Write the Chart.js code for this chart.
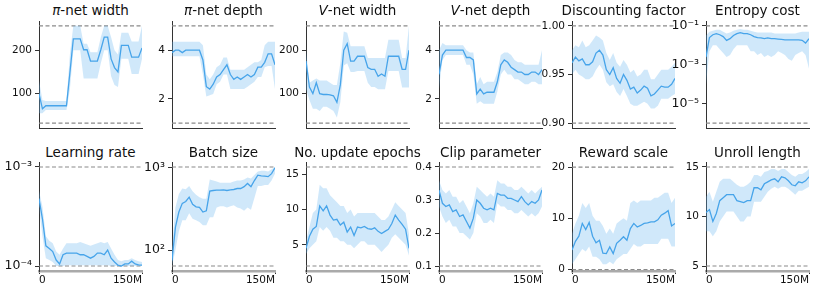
<!DOCTYPE html>
<html>
<head>
<meta charset="utf-8">
<script src="https://cdn.jsdelivr.net/npm/chart.js@4.4.1/dist/chart.umd.min.js"></script>
<style>
  body { margin: 0; width: 830px; height: 293px; position: relative; overflow: hidden; background: #fff; font-family: "DejaVu Sans", sans-serif; }
  .ttl { position: absolute; width: 160px; text-align: center; font-size: 13.5px; line-height: 1; color: #111; white-space: nowrap; }
  canvas { position: absolute; }
</style>
</head>
<body>
<script>
// training steps (millions), shared by every panel
const stepsM = [0,5,10,15,20,25,30,35,40,45,50,55,60,65,70,75,80,85,90,95,100,105,110,115,120,125,130,135,140,145,150];
const xTickValues = [0, 150];
const xTickLabels = ['0', '150M'];

const panelTitles = ['<i>π</i>-net width', '<i>π</i>-net depth', '<i>V</i>-net width', '<i>V</i>-net depth',
  'Discounting factor', 'Entropy cost', 'Learning rate', 'Batch size', 'No. update epochs',
  'Clip parameter', 'Reward scale', 'Unroll length'];

// pi-net width
const piWidthMean = [100,65,72,72,72,72,72,72,72,148,226,226,226,201,201,175,175,175,201,230,230,180,160,150,211,211,211,184,184,184,205];
const piWidthLo   = [55,55,62,62,62,62,62,62,62,110,200,200,200,135,135,135,135,135,170,200,200,140,120,115,180,180,180,145,145,145,180];
const piWidthHi   = [130,85,83,83,83,83,83,83,83,190,256,256,256,215,215,195,195,195,230,256,256,230,200,190,240,240,240,220,220,220,256];
const piWidthBounds = [32, 256];
const piWidthTicks = [100, 200];
const piWidthTickLabels = ['100', '200'];

// pi-net depth
const piDepthMean = [3.9,4.0,4.0,3.9,4.0,4.0,4.0,4.0,4.0,3.6,2.5,2.4,2.6,2.9,3.0,3.2,3.4,3.0,2.8,2.9,2.8,2.9,3.0,2.9,3.0,3.3,3.3,3.5,3.85,3.85,3.4];
const piDepthLo   = [3.75,3.75,3.75,3.75,3.75,3.75,3.75,3.75,3.75,3.0,2.1,2.15,2.2,2.6,2.7,3.0,3.0,2.4,2.4,2.4,2.4,2.4,2.5,2.6,2.7,2.9,2.9,3.3,3.35,3.35,2.4];
const piDepthHi   = [4.35,4.35,4.35,4.35,4.35,4.35,4.35,4.35,4.35,4.2,3.0,2.8,3.0,3.3,3.4,3.7,3.7,3.2,3.2,3.2,3.2,3.2,3.3,3.4,3.5,3.5,3.6,4.2,4.35,4.35,4.35];
const piDepthBounds = [1, 5];
const piDepthTicks = [2, 4];
const piDepthTickLabels = ['2', '4'];

// V-net width
const vWidthMean = [175,115,100,125,100,98,98,97,95,80,120,200,215,175,175,186,186,186,160,156,156,140,145,140,186,186,186,186,156,156,200];
const vWidthLo   = [110,85,65,65,60,70,70,65,60,45,80,165,170,150,150,152,152,152,125,115,115,110,110,110,152,152,152,152,114,114,114];
const vWidthHi   = [200,125,130,135,130,130,130,125,120,120,170,243,240,209,209,209,209,209,182,182,182,182,182,182,224,224,224,224,182,182,256];
const vWidthBounds = [32, 256];
const vWidthTicks = [100, 200];
const vWidthTickLabels = ['100', '200'];

// V-net depth
const vDepthMean = [3.0,3.8,4.0,4.0,4.0,4.0,4.0,4.0,3.7,3.7,3.6,2.2,2.4,2.2,2.27,2.27,2.27,2.7,3.4,3.6,3.5,3.3,3.2,3.1,3.1,3.0,3.0,3.1,3.1,3.0,3.2];
const vDepthLo   = [2.4,3.6,3.8,3.8,3.8,3.8,3.8,3.8,3.4,3.4,3.0,1.8,1.9,1.8,1.8,1.8,1.8,2.3,3.0,3.2,3.0,3.0,2.8,2.8,2.7,2.6,2.6,2.7,2.7,2.6,2.6];
const vDepthHi   = [4.0,4.3,4.2,4.2,4.2,4.2,4.2,4.2,4.0,3.9,3.9,2.6,2.9,2.6,2.7,2.7,2.7,3.1,3.8,3.9,3.9,3.8,3.6,3.5,3.5,3.4,3.4,3.4,3.4,3.4,4.0];
const vDepthBounds = [1, 5];
const vDepthTicks = [2, 4];
const vDepthTickLabels = ['2', '4'];

// discounting factor
const discountMean = [0.962,0.968,0.964,0.966,0.960,0.960,0.963,0.972,0.975,0.970,0.955,0.950,0.957,0.946,0.941,0.950,0.944,0.935,0.937,0.931,0.934,0.938,0.936,0.928,0.930,0.934,0.938,0.937,0.937,0.940,0.946];
const discountLo   = [0.950,0.955,0.950,0.948,0.945,0.945,0.948,0.955,0.960,0.955,0.942,0.938,0.940,0.932,0.928,0.935,0.928,0.920,0.918,0.918,0.920,0.922,0.920,0.915,0.915,0.918,0.925,0.925,0.925,0.928,0.930];
const discountHi   = [0.975,0.980,0.978,0.985,0.978,0.980,0.985,0.990,0.988,0.985,0.972,0.965,0.972,0.962,0.958,0.965,0.960,0.952,0.955,0.948,0.950,0.955,0.955,0.945,0.945,0.950,0.955,0.955,0.955,0.958,0.962];
const discountBounds = [0.9, 1.0];
const discountTicks = [0.9, 0.95, 1.0];
const discountTickLabels = ['0.90', '0.95', '1.00'];

// entropy cost (log)
const entropyMean = [2.5e-3,2.5e-2,3.5e-2,4.0e-2,3.5e-2,2.8e-2,1.8e-2,2.2e-2,3.2e-2,4.0e-2,4.5e-2,4.0e-2,4.0e-2,3.5e-2,2.8e-2,2.5e-2,2.4e-2,2.2e-2,2.4e-2,2.2e-2,2.2e-2,2.1e-2,2.0e-2,1.9e-2,1.9e-2,1.9e-2,1.9e-2,1.9e-2,1.8e-2,1.3e-2,2.2e-2];
const entropyLo   = [1e-4,5e-3,1e-2,1e-2,6.3e-3,4e-3,2.5e-3,3.2e-3,6.3e-3,1e-2,1e-2,1e-2,1e-2,5e-3,5e-3,3.2e-3,4e-3,2.5e-3,3.2e-3,2.5e-3,3.2e-3,5e-3,4e-3,3.2e-3,2e-3,1.6e-3,3.2e-3,4e-3,5e-3,3.2e-3,6.3e-4];
const entropyHi   = [3.2e-2,5e-2,5.6e-2,6.3e-2,6.3e-2,5e-2,4e-2,4.5e-2,5.6e-2,6.3e-2,7e-2,6.3e-2,6.3e-2,5.6e-2,5e-2,4.5e-2,4.5e-2,4.5e-2,4.5e-2,4.5e-2,4e-2,4e-2,4e-2,4e-2,4e-2,4e-2,4e-2,4.5e-2,5e-2,5e-2,5e-2];
const entropyBounds = [1e-6, 1e-1];
const entropyTicks = [1e-5, 1e-3, 1e-1];
const entropyTickLabels = ['10⁻⁵', '10⁻³', '10⁻¹'];

// learning rate (log)
const lrMean = [4.8e-4,3.0e-4,1.6e-4,1.5e-4,1.4e-4,1.15e-4,1.05e-4,1.3e-4,1.35e-4,1.35e-4,1.35e-4,1.35e-4,1.3e-4,1.3e-4,1.25e-4,1.2e-4,1.25e-4,1.35e-4,1.35e-4,1.3e-4,1.45e-4,1.2e-4,1.1e-4,1.02e-4,1.0e-4,1.05e-4,1.05e-4,1.12e-4,1.05e-4,1.03e-4,1.02e-4];
const lrLo   = [4.0e-4,2.0e-4,1.2e-4,1.15e-4,1.1e-4,1.0e-4,1.0e-4,1.0e-4,1.02e-4,1.02e-4,1.02e-4,1.02e-4,1.02e-4,1.02e-4,1.02e-4,1.02e-4,1.02e-4,1.02e-4,1.02e-4,1.02e-4,1.02e-4,1.0e-4,1.0e-4,1.0e-4,1.0e-4,1.0e-4,1.0e-4,1.0e-4,1.0e-4,1.0e-4,1.0e-4];
const lrHi   = [5.8e-4,4.0e-4,2.0e-4,1.8e-4,1.7e-4,1.4e-4,1.3e-4,1.5e-4,1.7e-4,1.7e-4,1.7e-4,1.7e-4,1.75e-4,1.7e-4,1.65e-4,1.6e-4,1.65e-4,1.7e-4,1.75e-4,1.7e-4,1.75e-4,1.5e-4,1.3e-4,1.15e-4,1.12e-4,1.15e-4,1.15e-4,1.2e-4,1.15e-4,1.12e-4,1.1e-4];
const lrBounds = [1e-4, 1e-3];
const lrTicks = [1e-4, 1e-3];
const lrTickLabels = ['10⁻⁴', '10⁻³'];

// batch size (log)
const batchMean = [75,190,290,370,390,440,360,335,330,290,300,520,530,535,535,540,530,540,545,560,560,590,645,590,700,815,800,790,780,850,1000];
const batchLo   = [64,100,170,230,230,280,240,230,220,200,200,250,250,330,340,340,330,340,350,330,320,300,330,310,430,600,600,620,620,700,850];
const batchHi   = [110,330,480,560,550,600,520,470,440,420,420,720,700,680,660,660,660,660,680,700,700,720,760,740,820,900,920,920,900,960,1024];
const batchBounds = [64, 1024];
const batchTicks = [100, 1000];
const batchTickLabels = ['10²', '10³'];

// number of update epochs
const epochsMean = [4.5,6.2,7.2,7.6,10.5,9.8,10.5,9.2,8.5,8.6,7.8,8.2,6.8,7.5,6.3,7.5,7.4,7.6,7.3,7.2,7.4,6.9,6.6,6.9,7.2,8.0,9.2,8.5,7.9,7.2,4.5];
const epochsLo   = [3.7,4.5,5.0,5.5,7.5,7.0,7.5,7.0,6.0,6.0,5.5,5.5,5.0,5.0,4.5,5.0,5.5,5.5,5.0,5.0,5.0,4.5,4.0,4.5,5.0,6.0,6.5,6.0,5.5,5.0,3.5];
const epochsHi   = [5.5,7.5,9.5,10.0,13.5,13.0,13.0,12.0,11.5,11.0,10.5,10.5,9.5,10.0,9.0,9.5,9.5,9.5,9.5,9.5,9.5,9.0,8.5,8.5,9.0,10.0,11.0,10.5,10.0,9.5,6.5];
const epochsBounds = [2, 16];
const epochsTicks = [5, 10, 15];
const epochsTickLabels = ['5', '10', '15'];

// clip parameter
const clipMean = [0.33,0.29,0.28,0.285,0.265,0.27,0.25,0.255,0.235,0.215,0.245,0.30,0.29,0.275,0.27,0.275,0.27,0.32,0.315,0.315,0.305,0.305,0.30,0.295,0.31,0.295,0.285,0.295,0.29,0.30,0.33];
const clipLo   = [0.28,0.25,0.23,0.24,0.22,0.22,0.20,0.20,0.19,0.18,0.20,0.26,0.25,0.23,0.23,0.24,0.23,0.29,0.28,0.28,0.27,0.27,0.26,0.26,0.27,0.26,0.25,0.26,0.25,0.26,0.28];
const clipHi   = [0.36,0.33,0.32,0.33,0.31,0.31,0.29,0.30,0.28,0.26,0.29,0.34,0.33,0.32,0.31,0.32,0.31,0.36,0.35,0.35,0.34,0.34,0.33,0.33,0.34,0.33,0.32,0.33,0.32,0.33,0.34];
const clipBounds = [0.1, 0.4];
const clipTicks = [0.1, 0.2, 0.3, 0.4];
const clipTickLabels = ['0.1', '0.2', '0.3', '0.4'];

// reward scale
const rewardMean = [3.8,5.5,6.5,9.0,7.8,9.2,6.5,5.2,5.7,3.2,3.1,4.4,3.1,5.1,5.7,6.4,5.7,8.0,9.0,8.3,8.6,9.0,9.1,9.3,9.3,9.7,10.6,11.0,11.5,8.5,9.0];
const rewardLo   = [1.0,2.0,3.0,4.0,3.5,4.5,2.5,2.5,2.0,1.0,1.0,1.5,1.0,2.0,2.5,3.0,3.0,4.0,5.0,4.5,4.5,5.0,5.0,5.0,5.0,5.0,6.0,6.0,6.0,4.5,4.5];
const rewardHi   = [7.0,9.0,10.5,13.0,12.0,13.0,10.5,9.5,9.5,8.5,7.0,8.0,7.0,9.0,9.5,10.0,9.5,13.0,13.5,13.0,13.5,13.5,13.5,13.5,14.0,14.0,14.5,15.0,15.0,13.0,14.0];
const rewardBounds = [0, 20];
const rewardTicks = [0, 10, 20];
const rewardTickLabels = ['0', '10', '20'];

// unroll length
const unrollMean = [10.4,10.7,9.5,10.3,11.6,11.9,12.2,12.2,12.2,11.6,11.5,11.4,11.6,11.6,12.9,12.9,12.7,13.3,13.5,13.7,13.8,13.5,14.0,13.9,13.6,13.2,13.1,13.5,13.4,13.6,14.0];
const unrollLo   = [8.5,8.5,8.0,8.5,9.5,10.0,10.5,10.5,10.5,10.0,9.5,9.5,10.0,10.0,11.5,11.5,11.5,12.0,12.5,12.8,13.0,12.8,13.0,13.0,12.8,12.5,12.2,12.6,12.6,12.8,13.0];
const unrollHi   = [12.0,12.5,11.5,12.5,13.5,13.8,13.8,13.8,13.5,13.2,13.0,13.0,13.2,13.5,14.2,14.2,14.0,14.5,14.6,14.8,14.8,14.6,14.8,14.8,14.5,14.2,14.0,14.3,14.3,14.5,14.8];
const unrollBounds = [5, 15];
const unrollTicks = [5, 10, 15];
const unrollTickLabels = ['5', '10', '15'];

const panels = [
  { mean: piWidthMean, lo: piWidthLo, hi: piWidthHi, bounds: piWidthBounds, ticks: piWidthTicks, labels: piWidthTickLabels },
  { mean: piDepthMean, lo: piDepthLo, hi: piDepthHi, bounds: piDepthBounds, ticks: piDepthTicks, labels: piDepthTickLabels },
  { mean: vWidthMean, lo: vWidthLo, hi: vWidthHi, bounds: vWidthBounds, ticks: vWidthTicks, labels: vWidthTickLabels },
  { mean: vDepthMean, lo: vDepthLo, hi: vDepthHi, bounds: vDepthBounds, ticks: vDepthTicks, labels: vDepthTickLabels },
  { mean: discountMean, lo: discountLo, hi: discountHi, bounds: discountBounds, ticks: discountTicks, labels: discountTickLabels },
  { mean: entropyMean, lo: entropyLo, hi: entropyHi, bounds: entropyBounds, ticks: entropyTicks, labels: entropyTickLabels, log: true },
  { mean: lrMean, lo: lrLo, hi: lrHi, bounds: lrBounds, ticks: lrTicks, labels: lrTickLabels, log: true },
  { mean: batchMean, lo: batchLo, hi: batchHi, bounds: batchBounds, ticks: batchTicks, labels: batchTickLabels, log: true },
  { mean: epochsMean, lo: epochsLo, hi: epochsHi, bounds: epochsBounds, ticks: epochsTicks, labels: epochsTickLabels },
  { mean: clipMean, lo: clipLo, hi: clipHi, bounds: clipBounds, ticks: clipTicks, labels: clipTickLabels },
  { mean: rewardMean, lo: rewardLo, hi: rewardHi, bounds: rewardBounds, ticks: rewardTicks, labels: rewardTickLabels, yLim: [-0.3, 21] },
  { mean: unrollMean, lo: unrollLo, hi: unrollHi, bounds: unrollBounds, ticks: unrollTicks, labels: unrollTickLabels }
];

// layout of the 2x6 grid (page pixels)
const COL_X = 38.7, COL_STEP = 133.4, PLOT_W = 103;
const ROW_Y = [21, 162], PLOT_H = [107, 109];
const AXIS_W = 40, PAD_T = 12, PAD_R = 20;
const TITLE_TOP = [4.3, 145.9];

const LINE = 'rgb(59,158,232)';
const BAND = 'rgba(100,180,240,0.3)';
const BOUND = '#8a8a8a';

Chart.defaults.font.family = '"DejaVu Sans", sans-serif';
Chart.defaults.font.size = 10.5;
Chart.defaults.color = '#111';

const pts = ys => stepsM.map((x, i) => ({ x: x, y: ys[i] }));

panels.forEach((p, i) => {
  const row = Math.floor(i / 6), col = i % 6;
  const left = Math.round(COL_X + col * COL_STEP);
  const top = ROW_Y[row];
  const xH = row ? 20 : 12;

  const t = document.createElement('div');
  t.className = 'ttl';
  t.innerHTML = panelTitles[i];
  t.style.left = (left + PLOT_W / 2 - 80) + 'px';
  t.style.top = TITLE_TOP[row] + 'px';
  document.body.appendChild(t);

  const cv = document.createElement('canvas');
  cv.width = AXIS_W + PLOT_W + PAD_R;
  cv.height = PAD_T + PLOT_H[row] + xH;
  cv.style.left = (left - AXIS_W) + 'px';
  cv.style.top = (top - PAD_T) + 'px';
  document.body.appendChild(cv);

  // axis limits: bounds plus a 5% margin (in log space for log panels)
  let yMin, yMax;
  if (p.yLim) {
    [yMin, yMax] = p.yLim;
  } else if (p.log) {
    const a = Math.log10(p.bounds[0]), b = Math.log10(p.bounds[1]), m = 0.05 * (b - a);
    yMin = Math.pow(10, a - m); yMax = Math.pow(10, b + m);
  } else {
    const m = 0.05 * (p.bounds[1] - p.bounds[0]);
    yMin = p.bounds[0] - m; yMax = p.bounds[1] + m;
  }

  const flat = v => [{ x: 0, y: v }, { x: 150, y: v }];

  new Chart(cv, {
    type: 'line',
    data: {
      datasets: [
        { data: pts(p.lo), borderWidth: 0, pointRadius: 0, fill: false },
        { data: pts(p.hi), borderWidth: 0, pointRadius: 0, fill: '-1', backgroundColor: BAND },
        { data: pts(p.mean), borderColor: LINE, borderWidth: 1.3, pointRadius: 0, fill: false },
        { data: flat(p.bounds[1]), borderColor: BOUND, borderWidth: 1.1, borderDash: [4, 2.5], pointRadius: 0, fill: false },
        { data: flat(p.bounds[0]), borderColor: BOUND, borderWidth: 1.1, borderDash: [4, 2.5], pointRadius: 0, fill: false }
      ]
    },
    options: {
      responsive: false,
      animation: false,
      layout: { padding: { top: PAD_T, right: PAD_R, left: 0, bottom: 0 } },
      plugins: { legend: { display: false }, tooltip: { enabled: false } },
      scales: {
        x: {
          type: 'linear', min: 0, max: 150,
          afterFit: s => { s.height = xH; },
          afterBuildTicks: s => { s.ticks = xTickValues.map(v => ({ value: v })); },
          ticks: { display: row === 1, maxRotation: 0, autoSkip: false, padding: 0, align: 'inner',
                   callback: (v, idx) => xTickLabels[idx] },
          grid: { drawOnChartArea: false, drawTicks: row === 1, tickLength: 3, tickColor: '#333' },
          border: { color: row ? '#aaa' : '#333', width: row ? 2.5 : 1 }
        },
        y: {
          type: p.log ? 'logarithmic' : 'linear', min: yMin, max: yMax,
          afterFit: s => { s.width = AXIS_W; },
          afterBuildTicks: s => { s.ticks = p.ticks.map(v => ({ value: v })); },
          ticks: { padding: 3, autoSkip: false, font: { size: p.log ? 12.5 : 10.5 },
                   callback: (v, idx) => p.labels[idx] },
          grid: { drawOnChartArea: false, drawTicks: true, tickLength: 4, tickColor: '#333' },
          border: { color: '#333', width: 1 }
        }
      }
    }
  });
});
</script>
</body>
</html>
